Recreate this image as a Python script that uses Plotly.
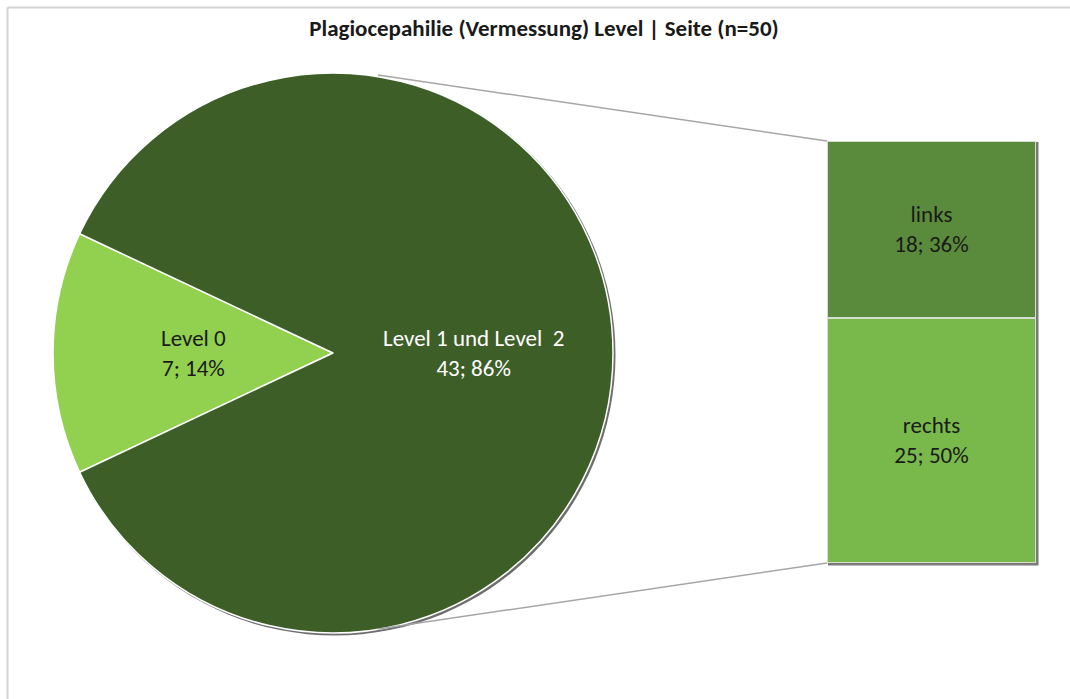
import math
import plotly.graph_objects as go

# Main pie: level split
pie_labels = ["Level 0", "Level 1 und Level  2"]
pie_values = [7, 43]
pie_colors = ["#92D050", "#3E5E28"]
pie_text_colors = ["#1A1A1A", "#FFFFFF"]

# Secondary stacked bar: side split of the level 1/2 group
bar_labels = ["links", "rechts"]
bar_values = [18, 25]
bar_colors = ["#5A8A3B", "#79B84B"]

total = sum(pie_values)
title = "Plagiocepahilie (Vermessung) Level | Seite (n=50)"

W, H = 1070, 699
FONT = "Carlito, Lato, sans-serif"
FS = 23

# Pie geometry (pixel space)
cx, cy, r = 333, 353, 280
# Bar box (pixel space)
bx0, bx1, by0, by1 = 827, 1036, 141, 563

# Rotate so that the first slice is centred on 9 o'clock
first_span = 360 * pie_values[0] / total
rotation = 270 - first_span / 2

fig = go.Figure()

fig.add_trace(go.Pie(
    labels=pie_labels,
    values=pie_values,
    sort=False,
    direction="clockwise",
    rotation=rotation,
    marker=dict(colors=pie_colors, line=dict(color="#FFFFFF", width=1.5)),
    textinfo="none",
    hoverinfo="label+value+percent",
    showlegend=False,
    domain=dict(x=[(cx - r) / W, (cx + r) / W],
                y=[1 - (cy + r) / H, 1 - (cy - r) / H]),
))

# Stacked bar: first trace sits at the bottom
for lab, val, col in reversed(list(zip(bar_labels, bar_values, bar_colors))):
    fig.add_trace(go.Bar(
        x=[0], y=[val], width=1,
        marker=dict(color=col, line=dict(color="#D5DECD", width=2)),
        text=[f"{lab}<br>{val}; {val / total:.0%}"],
        textposition="inside",
        insidetextanchor="middle",
        textangle=0,
        textfont=dict(family=FONT, size=FS, color="#1A1A1A"),
        hoverinfo="skip",
        showlegend=False,
        xaxis="x2", yaxis="y2",
    ))

# Pie slice labels at half radius on each slice's mid angle
angle = rotation
for lab, val, tc in zip(pie_labels, pie_values, pie_text_colors):
    span = 360 * val / total
    mid = math.radians(angle + span / 2)
    angle += span
    fig.add_annotation(
        x=cx + 0.5 * r * math.sin(mid), y=cy - 0.5 * r * math.cos(mid),
        xref="x", yref="y", showarrow=False,
        text=f"{lab.replace('  ', '\u00a0 ')}<br>{val}; {val / total:.0%}",
        font=dict(family=FONT, size=FS, color=tc),
        align="center",
    )

shapes = [
    # soft shadow under the pie
    dict(type="circle", xref="x", yref="y", layer="below",
         x0=cx - r + 1, x1=cx + r + 2.5, y0=cy - r + 1, y1=cy + r + 2.5,
         fillcolor="#6E6E6E", line=dict(width=0)),
    # soft shadow under the bar
    dict(type="rect", xref="x", yref="y", layer="below",
         x0=bx0 + 1, x1=bx1 + 2.5, y0=by0 + 1, y1=by1 + 2.5,
         fillcolor="#7A7A7A", line=dict(width=0)),
    # connector lines from pie to bar
    dict(type="line", xref="x", yref="y", x0=378, y0=75, x1=bx0, y1=by0,
         line=dict(color="#A6A6A6", width=1.5)),
    dict(type="line", xref="x", yref="y", x0=378, y0=629, x1=bx0, y1=by1,
         line=dict(color="#A6A6A6", width=1.5)),
    # chart frame
    dict(type="line", xref="x", yref="y", x0=7.5, y0=7.5, x1=W, y1=7.5,
         line=dict(color="#D4D4D4", width=2)),
    dict(type="line", xref="x", yref="y", x0=7.5, y0=7.5, x1=7.5, y1=H,
         line=dict(color="#D4D4D4", width=2)),
]

fig.update_layout(
    width=W, height=H,
    margin=dict(l=0, r=0, t=0, b=0),
    paper_bgcolor="#FFFFFF", plot_bgcolor="rgba(0,0,0,0)",
    barmode="stack",
    title=dict(text=f"<b>{title}</b>", x=544 / W, y=1 - 28 / H,
               xanchor="center", yanchor="middle",
               font=dict(family=FONT, size=FS, color="#1A1A1A")),
    xaxis=dict(range=[0, W], domain=[0, 1], visible=False, fixedrange=True),
    yaxis=dict(range=[H, 0], domain=[0, 1], visible=False, fixedrange=True),
    xaxis2=dict(range=[-0.5, 0.5], domain=[bx0 / W, bx1 / W], anchor="y2",
                visible=False, fixedrange=True),
    yaxis2=dict(range=[0, sum(bar_values)], domain=[1 - by1 / H, 1 - by0 / H],
                anchor="x2", visible=False, fixedrange=True),
    shapes=shapes,
)

fig.write_html("out.html")
